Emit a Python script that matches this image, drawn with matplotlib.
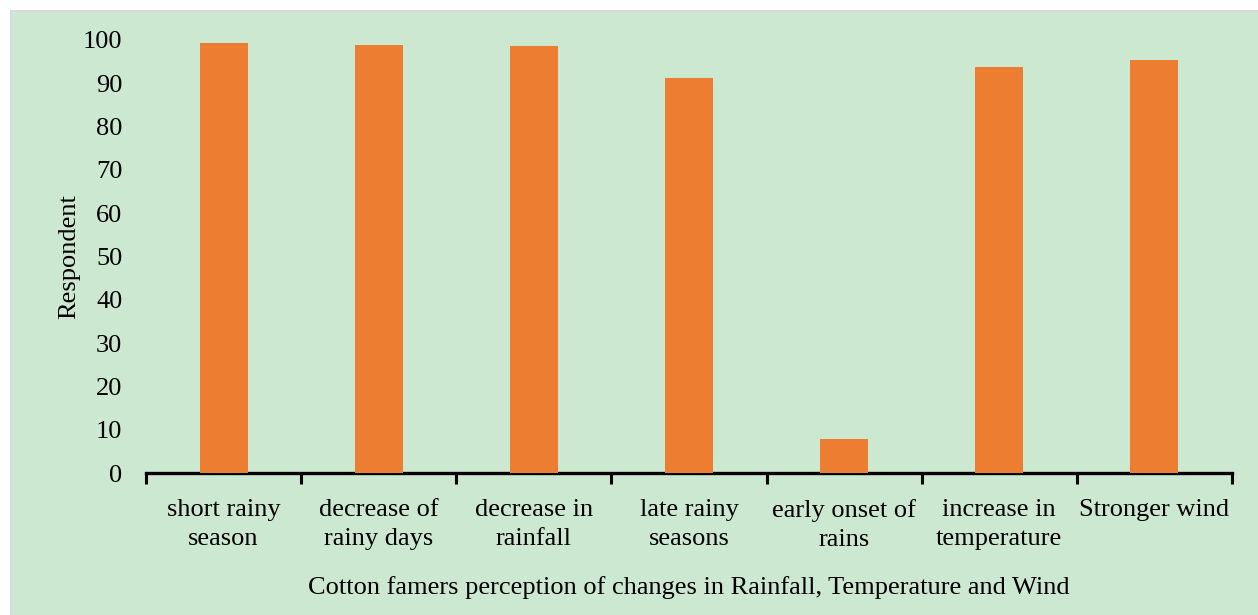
import numpy as np
import matplotlib.pyplot as plt
from matplotlib.patches import Rectangle

categories = ["short rainy\nseason", "decrease of\nrainy days", "decrease in\nrainfall",
              "late rainy\nseasons", "early onset of\nrains", "increase in\ntemperature",
              "Stronger wind"]
respondents = [99.4, 98.9, 98.6, 91.2, 7.9, 93.8, 95.4]
y_ticks = [0, 10, 20, 30, 40, 50, 60, 70, 80, 90, 100]

BG = "#CDE8D0"
BAR = "#ED7D31"
FS = 19

plt.rcParams["font.family"] = ["Liberation Serif", "DejaVu Serif"]

W, H = 1258, 615
fig = plt.figure(figsize=(W / 100, H / 100), dpi=100)
fig.patch.set_facecolor("white")
# green panel with thin grey edge, white margin at top/left
fig.patches.append(Rectangle((10.5 / W, -0.01), 1.02, 1 - 10.5 / H + 0.01,
                             transform=fig.transFigure, facecolor=BG,
                             edgecolor="#D9D9D9", linewidth=1.5, zorder=-5))

ax = fig.add_axes([146 / W, 1 - 473 / H, (1232 - 146) / W, (473 - 40) / H])
ax.set_facecolor("none")

x = np.arange(len(categories))
ax.bar(x, respondents, width=0.31, color=BAR, zorder=3)

ax.set_xlim(-0.5, len(categories) - 0.5)
ax.set_ylim(0, 100)
ax.set_yticks(y_ticks)
ax.tick_params(axis="y", length=0, labelsize=FS, pad=17)

ax.set_xticks(x)
ax.set_xticklabels(categories, fontsize=FS, linespacing=1.37)
ax.set_xticks(np.arange(-0.5, len(categories)), minor=True)
ax.tick_params(axis="x", which="major", length=0, pad=19)
ax.tick_params(axis="x", which="minor", length=8, width=2.2, direction="out")

for s in ["top", "right", "left"]:
    ax.spines[s].set_visible(False)
ax.spines["bottom"].set_linewidth(2.4)

ax.set_ylabel("Respondent", fontsize=FS, labelpad=2)
ax.set_xlabel("Cotton famers perception of changes in Rainfall, Temperature and Wind",
              fontsize=FS, labelpad=18)

fig.savefig("out.png", dpi=100)
